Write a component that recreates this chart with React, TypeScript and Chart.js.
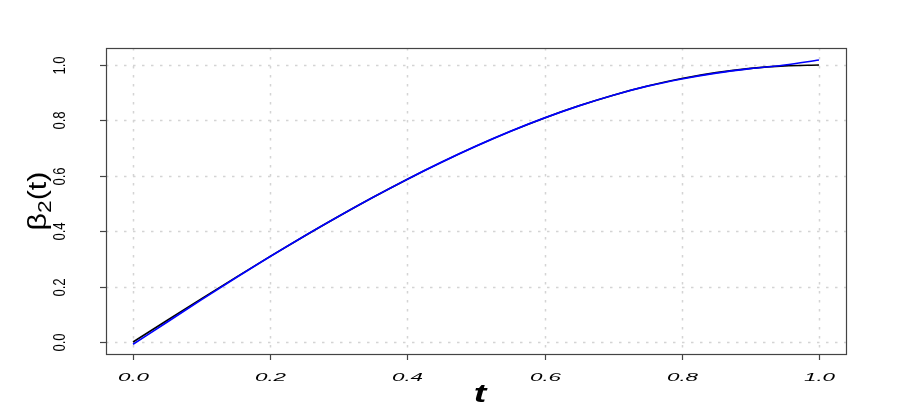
import React, { useEffect, useRef } from "react";
import { Chart, registerables } from "chart.js";

Chart.register(...registerables);

const tValues = [0, 0.05, 0.1, 0.15, 0.2, 0.25, 0.3, 0.35, 0.4, 0.45, 0.5, 0.55, 0.6, 0.65, 0.7, 0.75, 0.8, 0.85, 0.9, 0.95, 1.0];
const trueBeta = [0.0, 0.0785, 0.1564, 0.2334, 0.309, 0.3827, 0.454, 0.5225, 0.5878, 0.6494, 0.7071, 0.7604, 0.809, 0.8526, 0.891, 0.9239, 0.9511, 0.9724, 0.9877, 0.9969, 1.0];
const estBeta = [-0.008, 0.072, 0.153, 0.232, 0.309, 0.383, 0.454, 0.5225, 0.5878, 0.6494, 0.7071, 0.7604, 0.809, 0.8526, 0.891, 0.9235, 0.9495, 0.9705, 0.9868, 1.0, 1.018];
const xTicks = [0, 0.2, 0.4, 0.6, 0.8, 1.0];
const yTicks = [0, 0.2, 0.4, 0.6, 0.8, 1.0];
const xTickLabels = ["0.0", "0.2", "0.4", "0.6", "0.8", "1.0"];
const yTickLabels = ["0.0", "0.2", "0.4", "0.6", "0.8", "1.0"];

const framePlugin = {
  id: "rframe",
  beforeDatasetsDraw(chart: any) {
    const { ctx, chartArea: a, scales } = chart;
    const xs = scales.x, ys = scales.y;
    ctx.save();
    ctx.strokeStyle = "#d4d4d4";
    ctx.lineWidth = 1.5;
    ctx.setLineDash([2.5, 6.5]);
    xTicks.forEach((v) => {
      const px = Math.round(xs.getPixelForValue(v)) + 0.5;
      ctx.beginPath();
      ctx.moveTo(px, a.top);
      ctx.lineTo(px, a.bottom);
      ctx.stroke();
    });
    yTicks.forEach((v) => {
      const py = Math.round(ys.getPixelForValue(v)) + 0.5;
      ctx.beginPath();
      ctx.moveTo(a.left, py);
      ctx.lineTo(a.right, py);
      ctx.stroke();
    });
    ctx.restore();
  },
  afterDraw(chart: any) {
    const { ctx, chartArea: a, scales } = chart;
    const xs = scales.x, ys = scales.y;
    ctx.save();
    ctx.strokeStyle = "#444";
    ctx.lineWidth = 1.2;
    ctx.setLineDash([]);
    ctx.strokeRect(a.left + 0.5, a.top + 0.5, a.right - a.left, a.bottom - a.top);
    ctx.fillStyle = "#000";
    xTicks.forEach((v, i) => {
      const px = Math.round(xs.getPixelForValue(v)) + 0.5;
      ctx.beginPath();
      ctx.moveTo(px, a.bottom);
      ctx.lineTo(px, a.bottom + 6);
      ctx.stroke();
      ctx.save();
      ctx.translate(px, a.bottom + 24);
      ctx.scale(1.95, 1);
      ctx.font = "italic 11.5px 'Liberation Sans', Arial, sans-serif";
      ctx.textAlign = "center";
      ctx.textBaseline = "middle";
      ctx.fillText(xTickLabels[i], 0, 0);
      ctx.restore();
    });
    yTicks.forEach((v, i) => {
      const py = Math.round(ys.getPixelForValue(v)) + 0.5;
      ctx.beginPath();
      ctx.moveTo(a.left, py);
      ctx.lineTo(a.left - 6, py);
      ctx.stroke();
      ctx.save();
      ctx.translate(a.left - 45, py);
      ctx.rotate(-Math.PI / 2);
      ctx.scale(0.82, 1);
      ctx.font = "16px 'Liberation Sans', Arial, sans-serif";
      ctx.textAlign = "center";
      ctx.textBaseline = "middle";
      ctx.fillText(yTickLabels[i], 0, 0);
      ctx.restore();
    });
    ctx.save();
    ctx.translate((a.left + a.right) / 2 + 4, a.bottom + 41);
    ctx.scale(1.45, 1);
    ctx.font = "bold italic 26px 'Liberation Sans', Arial, sans-serif";
    ctx.textAlign = "center";
    ctx.textBaseline = "middle";
    ctx.fillText("t", 0, 0);
    ctx.restore();
    ctx.save();
    const cy = (a.top + a.bottom) / 2;
    ctx.translate(37, cy);
    ctx.rotate(-Math.PI / 2);
    ctx.scale(0.95, 0.8);
    ctx.textBaseline = "alphabetic";
    ctx.textAlign = "left";
    const big = "32px 'Liberation Sans', Arial, sans-serif";
    const small = "24px 'Liberation Sans', Arial, sans-serif";
    ctx.font = big;
    const wB = ctx.measureText("\u03B2").width;
    const wP = ctx.measureText("(t)").width;
    ctx.font = small;
    const w2 = ctx.measureText("2").width;
    const total = wB + w2 + wP;
    let x0 = -total / 2;
    const base = 11;
    ctx.font = big;
    ctx.fillText("\u03B2", x0, base);
    x0 += wB;
    ctx.font = small;
    ctx.fillText("2", x0, base + 6);
    x0 += w2;
    ctx.font = big;
    ctx.fillText("(t)", x0, base);
    ctx.restore();
    ctx.restore();
  },
};

export default function App() {
  const ref = useRef<HTMLCanvasElement | null>(null);
  useEffect(() => {
    if (!ref.current) return;
    const chart = new Chart(ref.current, {
      type: "line",
      data: {
        datasets: [
          {
            label: "true",
            data: tValues.map((t, i) => ({ x: t, y: trueBeta[i] })),
            borderColor: "#000000",
            borderWidth: 1.6,
            pointRadius: 0,
            cubicInterpolationMode: "monotone",
            fill: false,
            order: 2,
          },
          {
            label: "estimate",
            data: tValues.map((t, i) => ({ x: t, y: estBeta[i] })),
            borderColor: "#0000ff",
            borderWidth: 1.7,
            pointRadius: 0,
            cubicInterpolationMode: "monotone",
            fill: false,
            order: 1,
          },
        ],
      },
      options: {
        animation: false,
        responsive: false,
        maintainAspectRatio: false,
        layout: { padding: { left: 106, right: 54, top: 48, bottom: 61 } },
        plugins: { legend: { display: false }, tooltip: { enabled: false } },
        scales: {
          x: { type: "linear", display: false, min: -0.0394, max: 1.0394 },
          y: { type: "linear", display: false, min: -0.0433, max: 1.0614 },
        },
      },
      plugins: [framePlugin],
    } as any);
    return () => chart.destroy();
  }, []);
  return (
    <div style={{ position: "fixed", left: 0, top: 0, width: 900, height: 415, background: "#fff" }}>
      <canvas ref={ref} width={900} height={415} style={{ width: 900, height: 415, display: "block" }} />
    </div>
  );
}
